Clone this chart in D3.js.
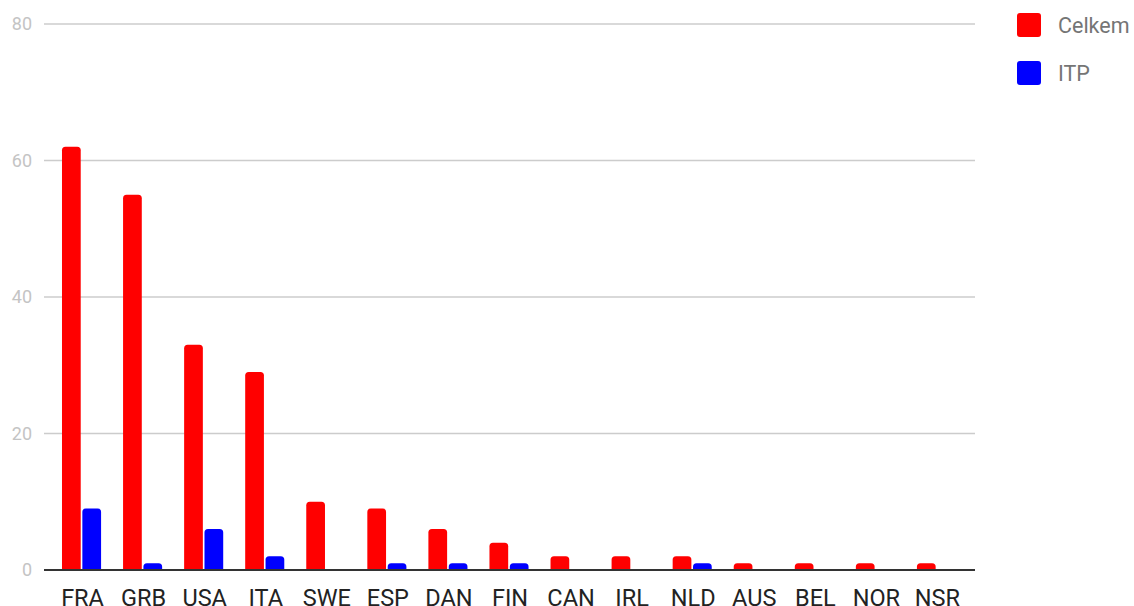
<!DOCTYPE html>
<html>
<head>
<meta charset="utf-8">
<script src="https://cdn.jsdelivr.net/npm/d3@7"></script>
<style>
  html, body { margin: 0; padding: 0; background: #fff; }
  svg { display: block; font-family: Roboto, "Noto Sans", sans-serif; }
</style>
</head>
<body>
<svg id="chart" width="1134" height="606"></svg>
<script>
// Countries and counts per series
const categories = ["FRA", "GRB", "USA", "ITA", "SWE", "ESP", "DAN", "FIN", "CAN", "IRL", "NLD", "AUS", "BEL", "NOR", "NSR"];
const celkem = [62, 55, 33, 29, 10, 9, 6, 4, 2, 2, 2, 1, 1, 1, 1];
const itp = [9, 1, 6, 2, 0, 1, 1, 1, 0, 0, 1, 0, 0, 0, 0];
const seriesNames = ["Celkem", "ITP"];
const seriesColors = ["#ff0000", "#0000ff"];
const yTicks = [0, 20, 40, 60, 80];

const svg = d3.select("#chart");
const plot = { left: 44, right: 975, top: 24, bottom: 570 };

const x = d3.scaleBand()
  .domain(categories)
  .range([51, 967])
  .paddingInner(0.36)
  .paddingOuter(0.18);

const x1 = d3.scaleBand()
  .domain(seriesNames)
  .range([0, x.bandwidth()])
  .paddingInner(0.08);

const y = d3.scaleLinear().domain([0, 80]).range([plot.bottom, plot.top]);

// Horizontal gridlines
svg.append("g")
  .selectAll("line")
  .data(yTicks.filter(t => t > 0))
  .join("line")
  .attr("x1", plot.left)
  .attr("x2", plot.right)
  .attr("y1", d => y(d))
  .attr("y2", d => y(d))
  .attr("stroke", "#cccccc")
  .attr("stroke-width", 1.5);

// Y tick labels
svg.append("g")
  .selectAll("text")
  .data(yTicks)
  .join("text")
  .attr("x", 32)
  .attr("y", d => y(d))
  .attr("dy", "0.35em")
  .attr("text-anchor", "end")
  .attr("fill", "#c4c4c4")
  .attr("font-size", 18)
  .text(d => d);

// Bar with rounded top corners only
function barPath(x0, w, yTop, yBase, r) {
  const h = yBase - yTop;
  if (h <= 0) return "";
  r = Math.min(r, h, w / 2);
  return `M${x0},${yBase}V${yTop + r}Q${x0},${yTop} ${x0 + r},${yTop}` +
         `H${x0 + w - r}Q${x0 + w},${yTop} ${x0 + w},${yTop + r}V${yBase}Z`;
}

const rows = categories.map((c, i) => ({ cat: c, values: [celkem[i], itp[i]] }));

const groups = svg.append("g")
  .selectAll("g")
  .data(rows)
  .join("g")
  .attr("transform", d => `translate(${x(d.cat)},0)`);

groups.selectAll("path")
  .data(d => d.values.map((v, j) => ({ name: seriesNames[j], value: v, color: seriesColors[j] })))
  .join("path")
  .attr("d", d => barPath(x1(d.name), x1.bandwidth(), y(d.value), y(0), 3.5))
  .attr("fill", d => d.color);

// Baseline
svg.append("line")
  .attr("x1", plot.left)
  .attr("x2", plot.right)
  .attr("y1", y(0))
  .attr("y2", y(0))
  .attr("stroke", "#333333")
  .attr("stroke-width", 2);

// Category labels
svg.append("g")
  .selectAll("text")
  .data(categories)
  .join("text")
  .attr("x", d => x(d) + x.bandwidth() / 2 + 1)
  .attr("y", 606)
  .attr("text-anchor", "middle")
  .attr("fill", "#222222")
  .attr("font-size", 23.5)
  .text(d => d);

// Legend
const legend = svg.append("g")
  .selectAll("g")
  .data(seriesNames)
  .join("g")
  .attr("transform", (d, i) => `translate(1017,${13 + i * 48})`);

legend.append("rect")
  .attr("width", 24)
  .attr("height", 24)
  .attr("rx", 3)
  .attr("fill", (d, i) => seriesColors[i]);

legend.append("text")
  .attr("x", 41)
  .attr("y", 12)
  .attr("dy", "0.35em")
  .attr("fill", "#757575")
  .attr("font-size", 21.5)
  .text(d => d);
</script>
</body>
</html>
